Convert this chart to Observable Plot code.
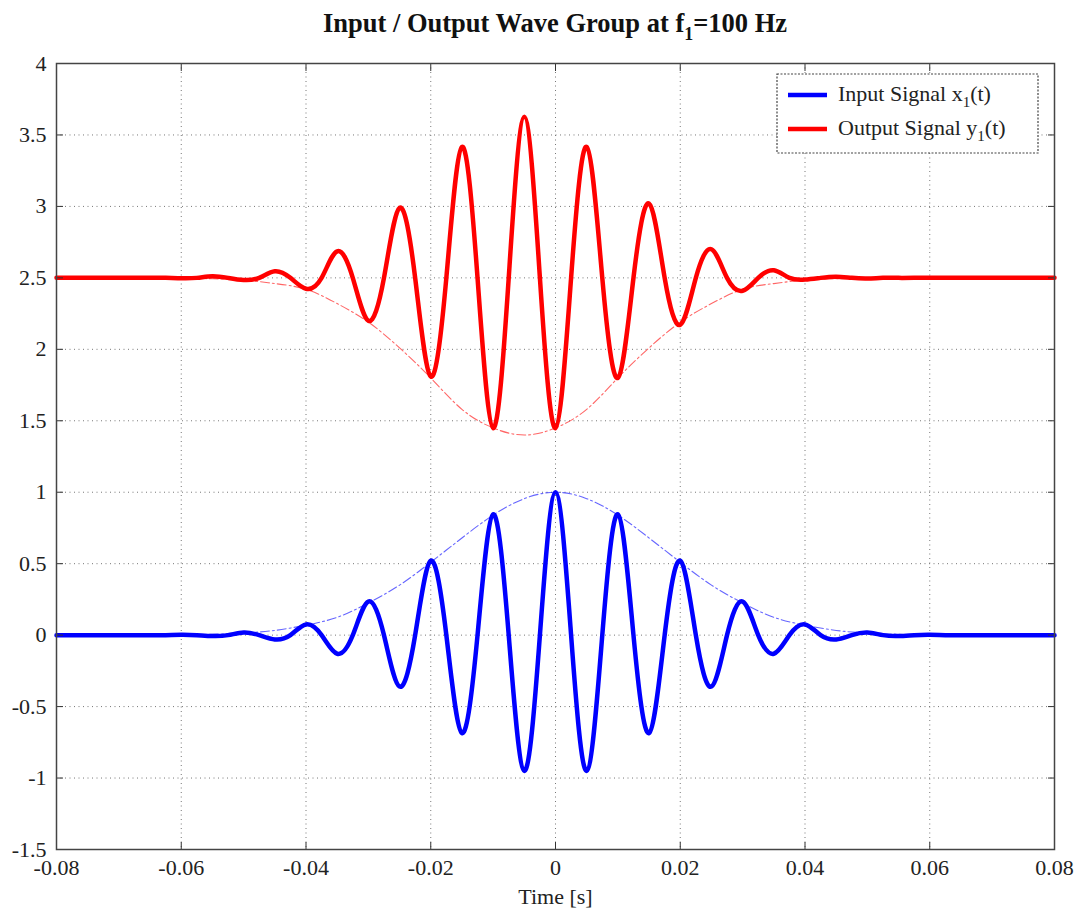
<!DOCTYPE html>
<html>
<head>
<meta charset="utf-8">
<script src="https://cdn.jsdelivr.net/npm/d3@7"></script>
<script src="https://cdn.jsdelivr.net/npm/@observablehq/plot@0.6"></script>
<style>
  html, body { margin: 0; padding: 0; background: #fff; }
  #chart { width: 1080px; height: 912px; }
</style>
</head>
<body>
<div id="chart"></div>
<script>
// ---- Data ----
const timeSig = [-0.08, -0.07, -0.065, -0.0625, -0.06, -0.0575, -0.055, -0.0525, -0.05, -0.0475,
  -0.045, -0.0425, -0.04, -0.0375, -0.035, -0.0325, -0.03, -0.0275, -0.025, -0.0225,
  -0.02, -0.0175, -0.015, -0.0125, -0.01, -0.0075, -0.005, -0.0025, 0, 0.0025,
  0.005, 0.0075, 0.01, 0.0125, 0.015, 0.0175, 0.02, 0.0225, 0.025, 0.0275,
  0.03, 0.0325, 0.035, 0.0375, 0.04, 0.0425, 0.045, 0.0475, 0.05, 0.0525,
  0.055, 0.0575, 0.06, 0.0625, 0.065, 0.07, 0.08];

const inputSignal = [0, 0, 0, 0, 0.003, 0, -0.006, 0, 0.018, 0,
  -0.03, 0, 0.075, 0, -0.13, 0, 0.235, 0, -0.36, 0,
  0.52, 0, -0.685, 0, 0.845, 0, -0.95, 0, 1.0, 0,
  -0.95, 0, 0.845, 0, -0.685, 0, 0.52, 0, -0.36, 0,
  0.235, 0, -0.13, 0, 0.075, 0, -0.03, 0, 0.018, 0,
  -0.006, 0, 0.003, 0, 0, 0, 0];

const outputSignal = [2.5, 2.5, 2.5, 2.5, 2.497, 2.5, 2.512, 2.5, 2.485, 2.5,
  2.546, 2.5, 2.424, 2.5, 2.686, 2.5, 2.20, 2.5, 2.99, 2.5,
  1.81, 2.5, 3.417, 2.5, 1.449, 2.5, 3.627, 2.5, 1.449, 2.5,
  3.417, 2.5, 1.80, 2.5, 3.02, 2.5, 2.172, 2.5, 2.70, 2.5,
  2.41, 2.5, 2.553, 2.5, 2.488, 2.5, 2.508, 2.5, 2.496, 2.5,
  2.5, 2.5, 2.5, 2.5, 2.5, 2.5, 2.5];

const timeEnv = [-0.08, -0.07, -0.06, -0.055, -0.05, -0.045, -0.04, -0.035, -0.03, -0.025,
  -0.02, -0.015, -0.01, -0.005, 0, 0.005, 0.01, 0.015, 0.02, 0.025,
  0.03, 0.035, 0.04, 0.045, 0.05, 0.055, 0.06, 0.07, 0.08];

const inputEnvelope = [0, 0, 0.002, 0.006, 0.015, 0.033, 0.07, 0.125, 0.225, 0.35,
  0.51, 0.68, 0.84, 0.955, 1.0, 0.955, 0.84, 0.68, 0.51, 0.35,
  0.225, 0.125, 0.07, 0.033, 0.015, 0.006, 0.002, 0, 0];

const outputEnvelope = [2.5, 2.5, 2.498, 2.494, 2.485, 2.46, 2.42, 2.32, 2.19, 2.01,
  1.80, 1.58, 1.45, 1.40, 1.45, 1.58, 1.80, 2.01, 2.19, 2.32,
  2.42, 2.46, 2.485, 2.494, 2.498, 2.5, 2.5, 2.5, 2.5];

const xTicks = [-0.08, -0.06, -0.04, -0.02, 0, 0.02, 0.04, 0.06, 0.08];
const yTicks = [-1.5, -1, -0.5, 0, 0.5, 1, 1.5, 2, 2.5, 3, 3.5, 4];

const seriesNames = ["Input Signal x", "Output Signal y"];
const seriesColors = ["#0000ff", "#ff0000"];

// ---- Build tables ----
const sig = timeSig.map((t, i) => ({t, x: inputSignal[i], y: outputSignal[i]}));
const env = timeEnv.map((t, i) => ({t, x: inputEnvelope[i], y: outputEnvelope[i]}));

const font = "'Liberation Serif', 'Times New Roman', Times, serif";
const fmt = d => String(d);
const W = 1080, H = 912;

const plot = Plot.plot({
  width: W, height: H,
  marginLeft: 56, marginRight: 26, marginTop: 63, marginBottom: 63,
  style: {fontFamily: font, fontSize: "22px", color: "#222", background: "#fff", overflow: "visible"},
  x: {domain: [-0.08, 0.08], label: null},
  y: {domain: [-1.5, 4], label: null},
  marks: [
    Plot.gridX(xTicks, {stroke: "#777", strokeOpacity: 1, strokeWidth: 1, strokeDasharray: "1,3.5"}),
    Plot.gridY(yTicks, {stroke: "#777", strokeOpacity: 1, strokeWidth: 1, strokeDasharray: "1,3.5"}),
    Plot.line(env, {x: "t", y: "x", curve: "natural", stroke: seriesColors[0], strokeWidth: 1.1, strokeOpacity: 0.6, strokeDasharray: "9,3,2,3"}),
    Plot.line(env, {x: "t", y: "y", curve: "natural", stroke: seriesColors[1], strokeWidth: 1.1, strokeOpacity: 0.6, strokeDasharray: "9,3,2,3"}),
    Plot.line(sig, {x: "t", y: "x", curve: "natural", stroke: seriesColors[0], strokeWidth: 4.5}),
    Plot.line(sig, {x: "t", y: "y", curve: "natural", stroke: seriesColors[1], strokeWidth: 4.5}),
    // inward tick marks on all four sides
    Plot.axisX(xTicks, {anchor: "bottom", tickSize: -7, tickFormat: () => "", stroke: "#333", label: null}),
    Plot.axisX(xTicks, {anchor: "top", tickSize: -7, tickFormat: () => "", stroke: "#333", label: null}),
    Plot.axisY(yTicks, {anchor: "left", tickSize: -7, tickFormat: () => "", stroke: "#333", label: null}),
    Plot.axisY(yTicks, {anchor: "right", tickSize: -7, tickFormat: () => "", stroke: "#333", label: null}),
    // tick labels
    Plot.axisX(xTicks, {anchor: "bottom", tickSize: 0, tickPadding: 10, tickFormat: fmt, fill: "#222", label: null}),
    Plot.axisY(yTicks, {anchor: "left", tickSize: 0, tickPadding: 10, tickFormat: fmt, fill: "#222", label: null}),
    Plot.text(["Time [s]"], {frameAnchor: "bottom", dy: 54, fontSize: 22, fill: "#222"}),
    Plot.frame({stroke: "#444", strokeWidth: 1.5})
  ]
});

document.getElementById("chart").appendChild(plot);

// ---- Title and legend ----
const svg = d3.select(plot);
const title = svg.append("text")
  .attr("x", 555).attr("y", 32)
  .attr("text-anchor", "middle")
  .attr("fill", "#111")
  .style("font-family", font).style("font-weight", "bold").style("font-size", "26.5px");
title.append("tspan").text("Input / Output Wave Group at f");
title.append("tspan").attr("dy", 8).style("font-size", "18px").text("1");
title.append("tspan").attr("dy", -8).text("=100 Hz");

const lg = svg.append("g").attr("text-anchor", "start");
lg.append("rect").attr("x", 777).attr("y", 74).attr("width", 261).attr("height", 79)
  .attr("fill", "#fff").attr("stroke", "#444").attr("stroke-width", 1.2).attr("stroke-dasharray", "2,1.5");
seriesNames.forEach((name, i) => {
  const yy = 95 + i * 34;
  lg.append("line").attr("x1", 788).attr("x2", 827).attr("y1", yy).attr("y2", yy)
    .attr("stroke", seriesColors[i]).attr("stroke-width", 4.5);
  const t = lg.append("text").attr("x", 838).attr("y", yy + 6)
    .attr("text-anchor", "start")
    .attr("fill", "#222").style("font-family", font).style("font-size", "22px");
  t.append("tspan").text(name);
  t.append("tspan").attr("dy", 6).style("font-size", "15px").text("1");
  t.append("tspan").attr("dy", -6).text("(t)");
});
</script>
</body>
</html>
